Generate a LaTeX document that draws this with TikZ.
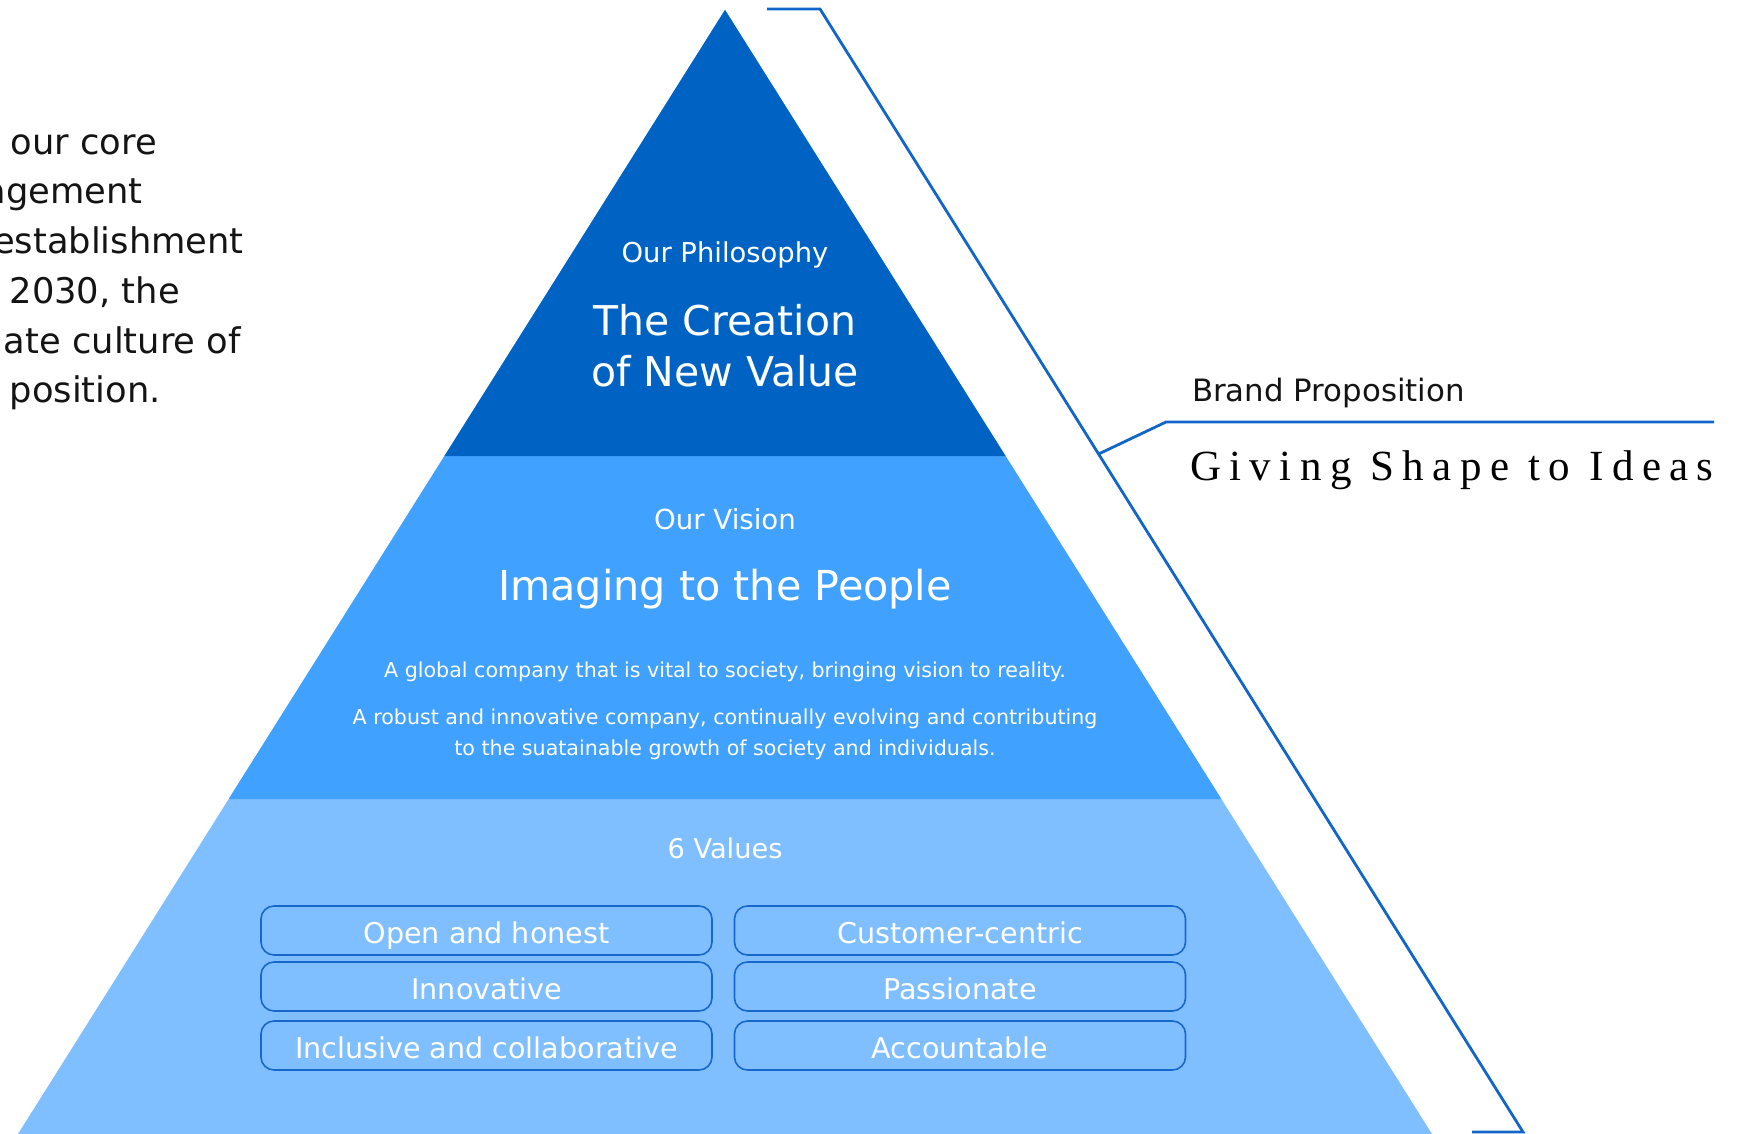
\documentclass[tikz,border=0pt]{standalone}
\usepackage{fontspec}
\setmainfont{DejaVu Sans}
\newfontfamily\taglinefont{Liberation Serif}[LetterSpace=19.5]

\definecolor{tierA}{RGB}{0,99,196}
\definecolor{tierB}{RGB}{65,161,255}
\definecolor{tierC}{RGB}{128,191,255}
\definecolor{rule}{RGB}{18,102,200}
\definecolor{boxline}{RGB}{24,104,204}
\definecolor{ink}{RGB}{20,20,20}

\tikzset{
  pt/.style={font=\fontsize{#1}{#1}\selectfont},
  intext/.style={inner sep=0pt, anchor=base, text=white},
  sidetext/.style={inner sep=0pt, text=ink},
  valuebox/.style={draw=boxline, line width=1.6pt, rounded corners=13pt,
    minimum width=451pt, minimum height=49pt, inner sep=0pt,
    text=white, text height=25pt, text depth=0pt,
    font=\fontsize{28.6}{28.6}\selectfont},
  bracketline/.style={draw=rule, line width=2.8pt, line cap=butt, line join=miter}
}

\begin{document}
\begin{tikzpicture}[x=1pt,y=-1pt]
\useasboundingbox (0,0) rectangle (1749,1134);
\fill[white] (0,0) rectangle (1749,1134);

% pyramid, painted from the base tier upwards so the tiers meet without seams
\fill[tierC] (725,10) -- (1432,1134) -- (18,1134) -- cycle;
\fill[tierB] (725,10) -- (1221.3,799) -- (228.7,799) -- cycle;
\fill[tierA] (725,10) -- (1005.5,456) -- (444.5,456) -- cycle;

% top tier
\node[intext, pt=27.4] (philo) at (725,263) {Our Philosophy};
\node[intext, pt=41] (creation1) at (725,335) {The Creation};
\node[intext, pt=41] (creation2) at (725,386) {of New Value};

% middle tier
\node[intext, pt=27.6] (vision) at (725,529) {Our Vision};
\node[intext, pt=41.3] (imaging) at (725,600) {Imaging to the People};
\node[intext, pt=20.6] (vline1) at (725,677) {A global company that is vital to society, bringing vision to reality.};
\node[intext, pt=20.6] (vline2) at (725,724) {A robust and innovative company, continually evolving and contributing};
\node[intext, pt=20.6] (vline3) at (725,755) {to the suatainable growth of society and individuals.};

% base tier
\node[intext, pt=27.2] (values) at (725,858) {6 Values};
\node[valuebox] (v1) at (486.5,930.5) {Open and honest};
\node[valuebox] (v2) at (960,930.5) {Customer-centric};
\node[valuebox] (v3) at (486.5,986.5) {Innovative};
\node[valuebox] (v4) at (960,986.5) {Passionate};
\node[valuebox] (v5) at (486.5,1045.5) {Inclusive and collaborative};
\node[valuebox] (v6) at (960,1045.5) {Accountable};

% bracket along the right flank with the brand proposition branch
\coordinate (bt0) at (767,9);
\coordinate (bt1) at (820,9);
\coordinate (bb1) at (1523,1132);
\coordinate (bb0) at (1472,1132);
\coordinate (bj) at (1098.6,454);
\coordinate (bk) at (1166,422);
\coordinate (be) at (1714,422);
\draw[bracketline] (bt0) -- (bt1) -- (bb1) -- (bb0);
\draw[bracketline] (bj) -- (bk) -- (be);

\node[sidetext, anchor=base west, pt=30.8] (brand) at (1192,401) {Brand Proposition};
\node[sidetext, anchor=base west, font=\taglinefont\fontsize{43}{43}\selectfont, text=black] (tagline) at (1190,480) {Giving Shape to Ideas};

% introductory paragraph running in from the left edge
\node[sidetext, anchor=base east, pt=35.3] (p1) at (157,155) {our core};
\node[sidetext, anchor=base east, pt=35.3] (p2) at (143,204) {agement};
\node[sidetext, anchor=base east, pt=35.3] (p3) at (244,254) {establishment};
\node[sidetext, anchor=base east, pt=35.3] (p4) at (180,303) {2030, the};
\node[sidetext, anchor=base east, pt=35.3] (p5) at (241,353) {ate culture of};
\node[sidetext, anchor=base east, pt=35.3] (p6) at (161,402) {position.};
\end{tikzpicture}
\end{document}
